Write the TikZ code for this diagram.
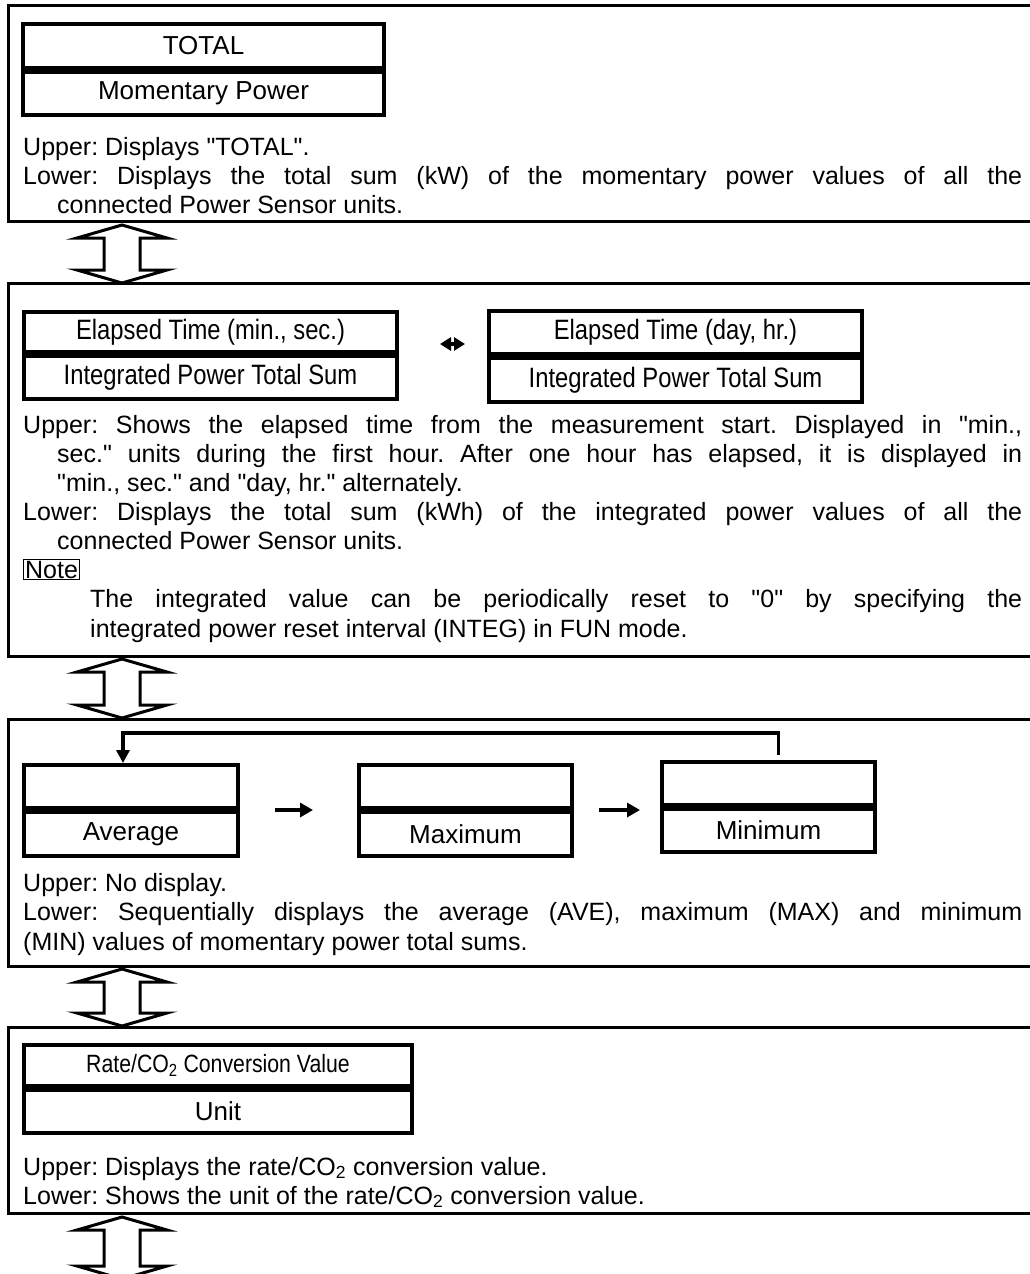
\documentclass[tikz,border=0pt]{standalone}
\usepackage{fontspec}
\setmainfont{Liberation Sans}[Ligatures=TeXOff]
\newfontfamily\narrowfont{Liberation Sans}[FakeStretch=0.85,Ligatures=TeXOff]
\usetikzlibrary{arrows.meta,calc}
\frenchspacing
\newcommand\jline[2]{\hbox to #1{#2}}
\newcommand\udarrow[2]{%
  \draw[blockarrow] (122,#1) -- (167,#1+13) -- (140,#1+13) -- (140,#2-13) -- (167,#2-13)
    -- (122,#2) -- (77,#2-13) -- (104,#2-13) -- (104,#1+13) -- (77,#1+13) -- cycle;}
\begin{document}
\begin{tikzpicture}[x=1pt,y=-1pt,
  frameline/.style={line width=3pt},
  cell/.style={draw, line width=4pt, anchor=north west, inner sep=0pt,
    font=\fontsize{26}{30}\selectfont},
  ncell/.style={cell, font=\narrowfont\fontsize{28}{32}\selectfont},
  rcell/.style={cell, font=\narrowfont\fontsize{25}{30}\selectfont},
  txt/.style={anchor=base west, inner sep=0pt, font=\fontsize{25}{29.5}\selectfont},
  blockarrow/.style={draw, line width=3pt, line join=miter, fill=white},
  sarrow/.style={line width=4pt, -{Triangle[length=13pt,width=14pt]}},
  darrow/.style={line width=3.5pt, {Triangle[length=11pt,width=13pt]}-{Triangle[length=11pt,width=13pt]}},
  fbline/.style={line width=3.5pt, -{Triangle[length=13pt,width=13pt]}},
  notebox/.style={draw, line width=1.3pt, inner sep=1.5pt, anchor=base west,
    font=\fontsize{25}{29.5}\selectfont}
]
\fill[white] (0,0) rectangle (1030,1274);
\useasboundingbox (0,0) rectangle (1030,1274);

% ---------- frames ----------
\draw[frameline] (1040,5) -- (8,5) -- (8,221) -- (1040,221);
\draw[frameline] (1040,283) -- (8,283) -- (8,656) -- (1040,656);
\draw[frameline] (1040,719) -- (8,719) -- (8,966) -- (1040,966);
\draw[frameline] (1040,1027) -- (8,1027) -- (8,1213) -- (1040,1213);

% ---------- block arrows ----------
\udarrow{225}{283}
\udarrow{659}{718}
\udarrow{969}{1026}
\udarrow{1217}{1279}

% ---------- frame 1 ----------
\node[cell, minimum width=361pt, minimum height=44pt] (totU) at (21,22) {TOTAL};
\node[cell, minimum width=361pt, minimum height=43pt] (totL) at (totU.south west) {Momentary Power};
\node[txt] (f1a) at (23,155) {Upper: Displays "TOTAL".};
\node[txt] (f1b) at (23,184) {\jline{999pt}{Lower: Displays the total sum (kW) of the momentary power values of all the}};
\node[txt] (f1c) at (57,213) {connected Power Sensor units.};

% ---------- frame 2 ----------
\node[ncell, minimum width=373pt, minimum height=40pt] (elLU) at (22,310) {Elapsed Time (min., sec.)};
\node[ncell, minimum width=373pt, minimum height=43pt] (elLL) at (elLU.south west) {Integrated Power Total Sum};
\node[ncell, minimum width=373pt, minimum height=43pt] (elRU) at (487,309) {Elapsed Time (day, hr.)};
\node[ncell, minimum width=373pt, minimum height=44pt] (elRL) at (elRU.south west) {Integrated Power Total Sum};
\draw[darrow, shorten <=41pt, shorten >=22pt] ([yshift=10pt]elLU.south east) -- ([yshift=10pt]elLU.south east -| elRU.west);

\node[txt] (f2a) at (23,433) {\jline{999pt}{Upper: Shows the elapsed time from the measurement start. Displayed in "min.,}};
\node[txt] (f2b) at (57,462) {\jline{965pt}{sec." units during the first hour. After one hour has elapsed, it is displayed in}};
\node[txt] (f2c) at (57,491) {"min., sec." and "day, hr." alternately.};
\node[txt] (f2d) at (23,520) {\jline{999pt}{Lower: Displays the total sum (kWh) of the integrated power values of all the}};
\node[txt] (f2e) at (57,549) {connected Power Sensor units.};
\node[notebox] (note) at (23,578) {Note};
\node[txt] (f2f) at (90,607.5) {\jline{932pt}{The integrated value can be periodically reset to "0" by specifying the}};
\node[txt] (f2g) at (90,637) {integrated power reset interval (INTEG) in FUN mode.};

% ---------- frame 3 ----------
\node[cell, minimum width=214pt, minimum height=43pt] (avgU) at (22,763) {};
\node[cell, minimum width=214pt, minimum height=44pt] (avgL) at (avgU.south west) {Average};
\node[cell, minimum width=213pt, minimum height=43pt] (maxU) at (357,763) {};
\node[cell, minimum width=213pt, minimum height=44pt] (maxL) at (maxU.south west) {Maximum};
\node[cell, minimum width=213pt, minimum height=43pt] (minU) at (660,760) {};
\node[cell, minimum width=213pt, minimum height=43pt] (minL) at (minU.south west) {Minimum};
\draw[sarrow, shorten <=35pt, shorten >=44pt] (avgU.south east) -- (maxU.south west);
\draw[sarrow, shorten <=25pt, shorten >=20pt] (maxU.south east) -- (maxU.south east -| minU.west);
\coordinate (fbtop) at (450,733);
\draw[fbline] ([xshift=10pt,yshift=5pt]minU.north) |- (fbtop) -| ([xshift=-8pt]avgU.north);

\node[txt] (f3a) at (23,891) {Upper: No display.};
\node[txt] (f3b) at (23,920.5) {\jline{999pt}{Lower: Sequentially displays the average (AVE), maximum (MAX) and minimum}};
\node[txt] (f3c) at (23,950) {(MIN) values of momentary power total sums.};

% ---------- frame 4 ----------
\node[rcell, minimum width=388pt, minimum height=41pt] (rateU) at (22,1043) {Rate/CO\textsubscript{2} Conversion Value};
\node[cell, minimum width=388pt, minimum height=43pt] (rateL) at (rateU.south west) {Unit};
\node[txt] (f4a) at (23,1175) {Upper: Displays the rate/CO\textsubscript{2} conversion value.};
\node[txt] (f4b) at (23,1204) {Lower: Shows the unit of the rate/CO\textsubscript{2} conversion value.};
\end{tikzpicture}
\end{document}
